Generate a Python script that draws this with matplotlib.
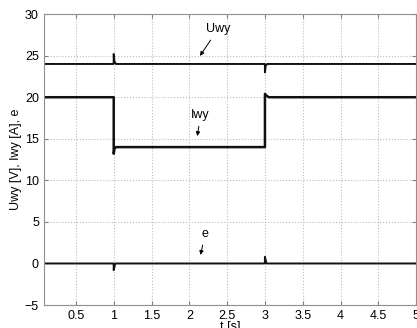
import matplotlib
matplotlib.use('Agg')
import matplotlib.pyplot as plt

plt.rcParams['font.family'] = ['Liberation Sans', 'DejaVu Sans']

# breakpoints of the three traces (time in s)
t_u = [0.075, 0.999, 1.0, 1.01, 1.03, 2.999, 3.0, 3.01, 3.03, 5.0]
uwy = [24.0, 24.0, 25.2, 24.3, 24.0, 24.0, 23.0, 23.8, 24.0, 24.0]

t_i = [0.075, 1.0, 1.0, 1.01, 1.03, 3.0, 3.0, 3.02, 3.05, 5.0]
iwy = [20.0, 20.0, 13.2, 13.8, 14.0, 14.0, 20.4, 20.2, 20.0, 20.0]

t_e = [0.075, 0.999, 1.0, 1.02, 2.999, 3.0, 3.02, 5.0]
e = [0.0, 0.0, -0.8, 0.0, 0.0, 0.8, 0.0, 0.0]

xticks = [0.5, 1, 1.5, 2, 2.5, 3, 3.5, 4, 4.5, 5]
xlabels = ['0.5', '1', '1.5', '2', '2.5', '3', '3.5', '4', '4.5', '5']
yticks = [-5, 0, 5, 10, 15, 20, 25, 30]

fig = plt.figure(figsize=(4.17, 3.28), dpi=100)
ax = fig.add_axes([0.105, 0.070, 0.893, 0.887])

ax.plot(t_u, uwy, color='#111111', linewidth=1.4)
ax.plot(t_i, iwy, color='#111111', linewidth=1.8)
ax.plot(t_e, e, color='#111111', linewidth=1.4)

ax.set_xlim(0.075, 5)
ax.set_ylim(-5, 30)
ax.set_xticks(xticks)
ax.set_xticklabels(xlabels)
ax.set_yticks(yticks)
ax.grid(True, color='#bbbbbb', linestyle=':', linewidth=0.8)
ax.tick_params(direction='in', top=True, right=True, labelsize=9, length=3, color='#808080')
for s in ax.spines.values():
    s.set_color('#909090')

arrow = dict(arrowstyle='-|>', color='black', lw=0.7, mutation_scale=6)
ax.annotate('Uwy', xy=(2.12, 24.7), xytext=(2.38, 28.2), ha='center', va='center',
            fontsize=9, arrowprops=arrow)
ax.annotate('Iwy', xy=(2.1, 15.0), xytext=(2.15, 17.9), ha='center', va='center',
            fontsize=9, arrowprops=arrow)
ax.annotate('e', xy=(2.14, 0.7), xytext=(2.21, 3.6), ha='center', va='center',
            fontsize=9, arrowprops=arrow)

ax.set_xlabel('t [s]', fontsize=9, labelpad=-1)
ax.set_ylabel('Uwy [V], Iwy [A], e', fontsize=9, labelpad=2)

fig.savefig('out.png', dpi=100)
